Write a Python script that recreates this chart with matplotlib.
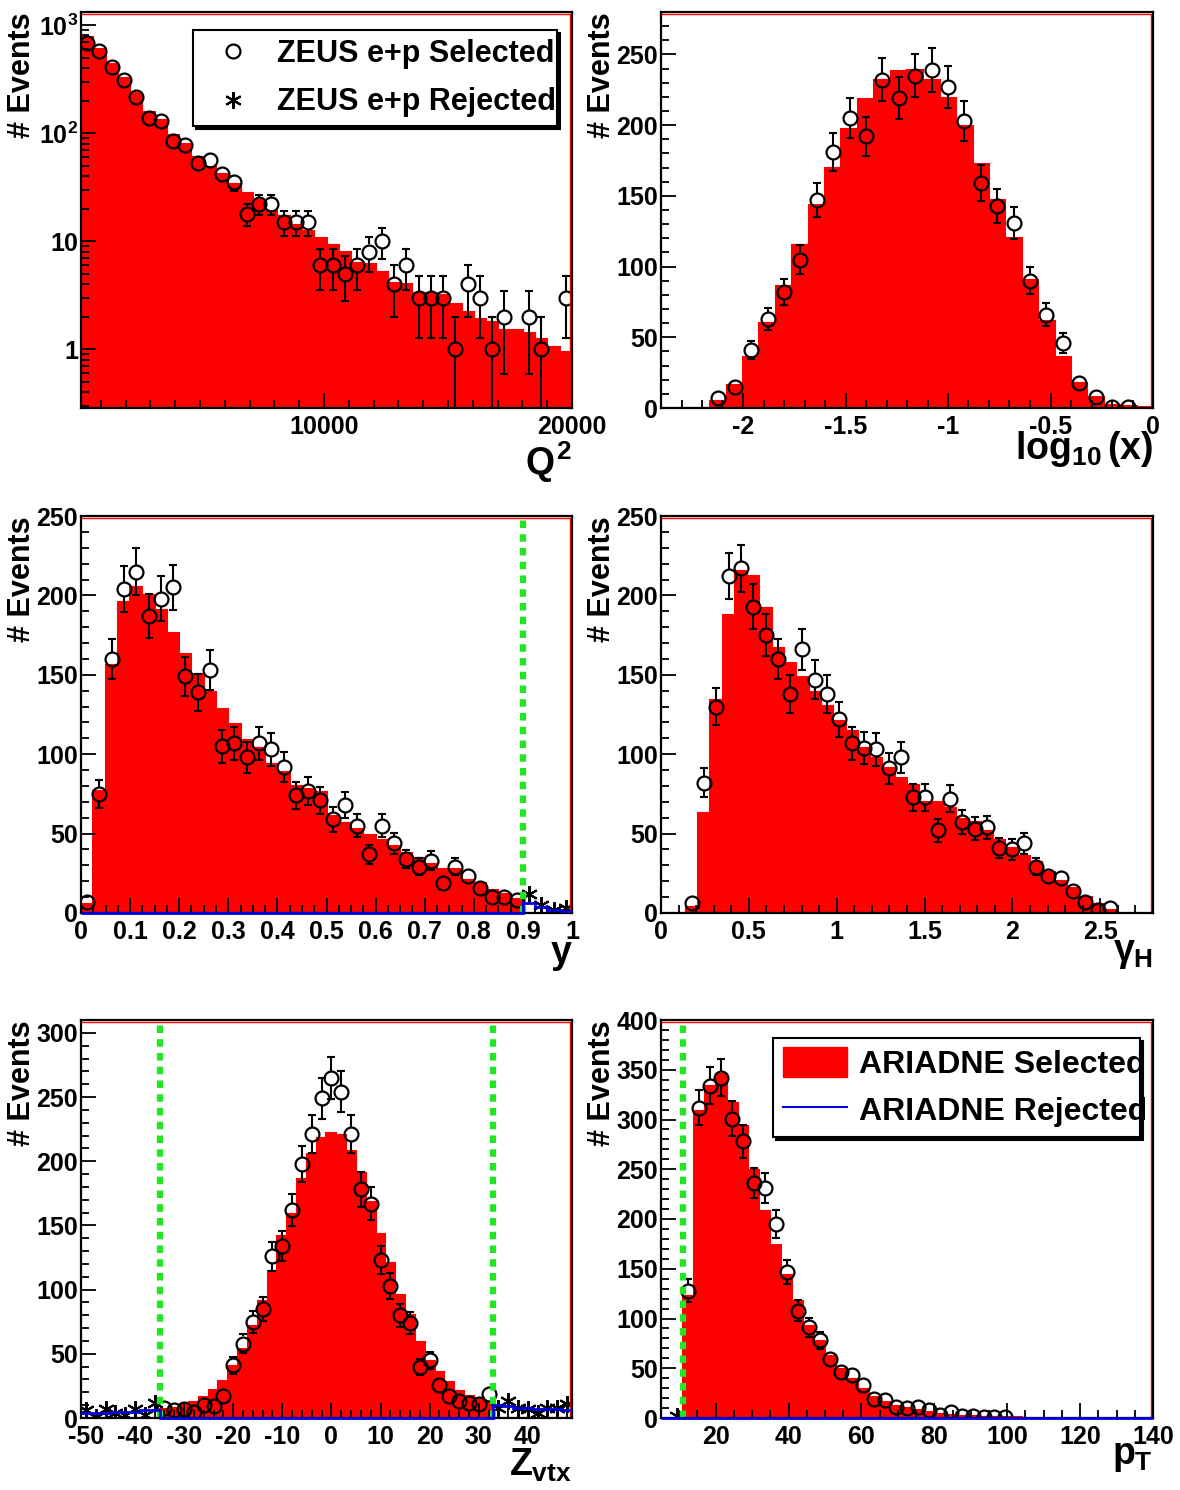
import numpy as np
import matplotlib.pyplot as plt
from matplotlib.ticker import MultipleLocator, FixedLocator, LogLocator, FuncFormatter, NullFormatter
from matplotlib.patches import Patch
from matplotlib.lines import Line2D

plt.rcParams['font.family'] = ['Liberation Sans', 'DejaVu Sans']
plt.rcParams['font.weight'] = 'bold'
plt.rcParams['mathtext.fontset'] = 'custom'
plt.rcParams['mathtext.rm'] = 'Liberation Sans:bold'
plt.rcParams['mathtext.it'] = 'Liberation Sans:bold'
plt.rcParams['mathtext.bf'] = 'Liberation Sans:bold'

RED = '#ff0000'
GREEN = '#22e622'
BLUE = '#0000dd'

# ---------------- Q^2 ----------------
q2_range = (200, 20000)
q2_nbins = 40
q2_mc = [780, 605, 440, 320, 234, 157, 132, 96, 80, 60, 49, 42, 34, 28, 24, 19, 17, 14, 12.5, 10.6,
         9.2, 7.9, 6.3, 6.2, 5.2, 4.1, 4.0, 3.3, 3.3, 3.2, 2.6, 2.2, 1.9, 1.8, 1.5, 1.5, 1.4, 1.25, 1.05, 0.95]
q2_sel = [680, 575, 408, 310, 215, 138, 129, 85, 78, 53, 56, 42, 35, 18, 22, 22, 15, 15, 15, 6,
          6, 5, 6, 8, 10, 4, 6, 3, 3, 3, 1, 4, 3, 1, 2, 0, 2, 1, 0, 3]

# ---------------- log10(x) ----------------
lx_range = (-2.4, 0)
lx_nbins = 30
lx_mc = [0, 0, 0, 4.7, 16.4, 36.4, 60.3, 86.4, 115, 143.7, 169.5, 197, 218.8, 231.7, 238.3,
         238.7, 232, 219, 199.5, 172.5, 147.4, 120.2, 90.8, 61.5, 36.4, 18, 7.5, 2.3, 1.2, 0.4]
lx_sel = [0, 0, 0, 7, 15, 41, 63, 82, 105, 147, 181, 205, 192, 232, 219,
          235, 239, 227, 203, 159, 143, 131, 90, 66, 46, 18, 8, 1, 1, 0]

# ---------------- y ----------------
y_range = (0, 1)
y_nbins = 40
y_mc = [5.7, 77, 156, 196, 205, 200, 190.5, 176.5, 163, 150.6, 139, 128.6, 119, 109, 104, 94, 88.7, 80, 78, 76,
        61, 56.5, 53, 49, 46, 42.4, 38, 34.5, 31, 28, 28, 21, 19, 14.5, 12, 9, 0, 0, 0, 0]
y_sel = [7, 75, 160, 204, 215, 187, 198, 205, 149, 139, 153, 105, 107, 98, 107, 103, 92, 74, 77, 71,
         59, 68, 55, 37, 55, 44, 34, 29, 33, 19, 29, 23, 16, 10, 10, 8, 0, 0, 0, 0]
y_rej = [0] * 36 + [12, 5, 2, 3]
y_mc_rej = [0] * 36 + [6, 4, 2, 1]
y_cuts = [0.9]

# ---------------- gamma_H ----------------
g_range = (0, 2.8)
g_nbins = 40
g_mc = [0, 0, 3.5, 62.9, 134, 187.6, 215.3, 212.2, 191.8, 167, 157.6, 148.8, 139.2, 130.4, 121, 114.3, 104.2, 97.5,
        91.6, 85.3, 80.5, 70, 70, 66, 59, 57, 51.8, 46, 41, 36, 31.9, 25.6, 20.3, 15.7, 10.3, 5.7, 1.9, 0.3, 0, 0]
g_sel = [0, 0, 6, 82, 130, 212, 217, 193, 175, 160, 138, 166, 147, 138, 122, 107, 104, 103,
         91, 98, 73, 73, 52, 72, 57, 53, 54, 41, 40, 44, 29, 23, 22, 14, 7, 2, 3, 0, 0, 0]

# ---------------- Zvtx ----------------
z_range = (-51, 49)
z_nbins = 50
z_mc = [0] * 8 + [7, 8, 10, 12.7, 16.6, 21.8, 29, 40.8, 53.8, 72, 91.4, 114.8, 142, 159, 186, 206, 218,
                  222, 220.5, 208, 191, 168, 143, 121, 96, 80, 59.5, 44.7, 35.6, 27.8, 21.3, 17.4, 15.3,
                  12.2] + [0] * 8
z_sel = [0] * 8 + [8, 6, 7, 5, 10, 9, 17, 41, 58, 75, 85, 126, 134, 162, 198, 221, 249, 265, 254, 221,
                   178, 167, 123, 103, 80, 74, 40, 45, 26, 17, 13, 12, 11, 19] + [0] * 8
z_rej = [6, 1, 7, 4, 2, 7, 2, 12] + [0] * 34 + [8, 13, 8, 7, 4, 8, 8, 11]
z_mc_rej = [4, 4, 4, 5, 5, 5, 6, 6] + [0] * 34 + [10, 9, 8, 8, 7, 7, 7, 6]
z_cuts = [-35, 33]

# ---------------- pT ----------------
pt_range = (5, 140)
pt_nbins = 45
pt_mc = [0, 0, 123, 309, 334, 346, 317, 293, 249.5, 208, 174, 143.7, 118, 92.8, 77.7, 62.6, 49.6, 39, 29,
         20.8, 15.7, 12.4, 10, 8, 5.7, 4, 3, 2.3, 1.7, 1.3, 1, 0.8,
         0.6, 0.5, 0.4, 0.4, 0.3, 0.3, 0.2, 0.2, 0.2, 0.1, 0.1, 0.1, 0.1]
pt_sel = [0, 0, 128, 312, 334, 342, 301, 278, 236, 231, 195, 147, 108, 91, 78, 59, 46, 43, 33,
          19, 18, 11, 10, 11, 8, 3, 6, 2, 2, 1, 1, 1] + [0] * 13
pt_rej = [0, 2] + [0] * 43
pt_mc_rej = [0] * 45
pt_cuts = [11]

fig = plt.figure(figsize=(11.8, 14.9), dpi=100)
W, H = 1180.0, 1490.0


def make_axes(left, top, right, bottom):
    return fig.add_axes([left / W, 1 - bottom / H, (right - left) / W, (bottom - top) / H])


MS = 10
R_PX = (MS / 2 + 0.8) * fig.dpi / 72
STAR = (6, 2, 0)


def draw_points(ax, edges, counts):
    # open circles with sqrt(N) bars that stop at the marker edge (ROOT style)
    centers = 0.5 * (edges[:-1] + edges[1:])
    counts = np.asarray(counts, float)
    keep = counts > 0
    x, n = centers[keep], counts[keep]
    ymin = ax.get_ylim()[0]
    tr = ax.transData
    inv = tr.inverted()
    for xi, ni in zip(x, n):
        ei = np.sqrt(ni)
        px, py = tr.transform((xi, ni))
        ptop = tr.transform((xi, ni + ei))[1]
        lo = ni - ei
        has_lo = lo > ymin
        pbot = tr.transform((xi, lo if has_lo else ymin))[1]
        if ptop - py > R_PX:
            y0 = inv.transform((px, py + R_PX))[1]
            ax.plot([xi, xi], [y0, ni + ei], color='k', lw=1.5, zorder=4)
            ax.plot([xi], [ni + ei], marker='_', ms=6, mew=1.5, color='k', zorder=4)
        if py - pbot > R_PX:
            y1 = inv.transform((px, py - R_PX))[1]
            ax.plot([xi, xi], [lo if has_lo else ymin, y1], color='k', lw=1.5, zorder=4)
            if has_lo:
                ax.plot([xi], [lo], marker='_', ms=6, mew=1.5, color='k', zorder=4)
    ax.plot(x, n, ls='none', marker='o', ms=MS, mfc='none', mec='k', mew=1.6, zorder=5)


def draw_panel(ax, rng, nbins, mc, sel, rej=None, mc_rej=None, cuts=()):
    edges = np.linspace(rng[0], rng[1], nbins + 1)
    ax.stairs(mc, edges, fill=True, color=RED, lw=0, zorder=1)
    ax.stairs(mc, edges, color=RED, lw=1.5, zorder=1.2)
    if mc_rej is not None:
        ax.stairs(mc_rej, edges, color=BLUE, lw=2, zorder=11, clip_on=False, baseline=None)
    for c in cuts:
        ax.axvline(c, color=GREEN, lw=4.5, ls=(0, (1.2, 1.0)), zorder=6)
    draw_points(ax, edges, sel)
    if rej is not None:
        centers = 0.5 * (edges[:-1] + edges[1:])
        rej = np.asarray(rej, float)
        m = rej > 0
        ax.plot(centers[m], rej[m], ls='none', marker=STAR, ms=12, mew=1.5, color='k', zorder=5)


def style(ax, xlabel, xlab_y):
    ax.tick_params(which='both', direction='in', top=False, right=False, width=1.3,
                   labelsize=18, colors='k')
    ax.tick_params(which='major', length=11)
    ax.tick_params(which='minor', length=6)
    ax.tick_params(axis='x', pad=5)
    ax.tick_params(axis='y', pad=2)
    for sp in ax.spines.values():
        sp.set_linewidth(1.6)
        sp.set_zorder(10)
    ax.plot([0, 0.995, 0.995], [0.994, 0.994, 0], transform=ax.transAxes, color=RED, lw=1.0,
            zorder=9, clip_on=False)
    ax.text(-0.12, 1.0, '# Events', rotation=90, ha='center', va='top', fontsize=22,
            transform=ax.transAxes)
    ax.text(1.0, xlab_y, xlabel, ha='right', va='baseline', fontsize=27, transform=ax.transAxes)


fmt_g = FuncFormatter(lambda v, p: '%g' % round(v, 6) if abs(v) > 1e-9 else '0')

# --- Q^2 panel ---
ax1 = make_axes(81, 12, 572, 408)
ax1.set_yscale('log')
ax1.set_xlim(*q2_range)
ax1.set_ylim(0.285, 1320)
draw_panel(ax1, q2_range, q2_nbins, q2_mc, q2_sel)
ax1.xaxis.set_major_locator(FixedLocator([10000, 20000]))
ax1.xaxis.set_minor_locator(MultipleLocator(1000))
ax1.xaxis.set_major_formatter(FuncFormatter(lambda v, p: '%d' % v))
ax1.yaxis.set_major_locator(FixedLocator([1, 10, 100, 1000]))
ax1.yaxis.set_minor_locator(LogLocator(subs=np.arange(2, 10)))
ax1.yaxis.set_minor_formatter(NullFormatter())
ylog_labels = {1: '1', 10: '10', 100: r'$10^{2}$', 1000: r'$10^{3}$'}
ax1.yaxis.set_major_formatter(FuncFormatter(lambda v, p: ylog_labels.get(int(round(v)), '')))
style(ax1, r'$Q^{2}$', -0.17)
h_sel = Line2D([], [], ls='none', marker='o', ms=MS, mfc='none', mec='k', mew=1.6)
h_rej = Line2D([], [], ls='none', marker=STAR, ms=12, mew=1.5, color='k')
leg1 = ax1.legend([h_sel, h_rej], ['ZEUS e+p Selected', 'ZEUS e+p Rejected'],
                  loc='upper left', bbox_to_anchor=(0.228, 0.715, 0.741, 0.24), mode='expand',
                  fontsize=22, fancybox=False, framealpha=1, edgecolor='k', borderaxespad=0,
                  borderpad=0.3, labelspacing=0.6, handlelength=2.0, handletextpad=0.45,
                  shadow={'color': 'k', 'alpha': 1})
leg1.get_frame().set_linewidth(1.5)
leg1.set_zorder(12)

# --- log10(x) panel ---
ax2 = make_axes(661, 12, 1153, 408)
ax2.set_xlim(*lx_range)
ax2.set_ylim(0, 280)
draw_panel(ax2, lx_range, lx_nbins, lx_mc, lx_sel)
ax2.xaxis.set_major_locator(MultipleLocator(0.5))
ax2.xaxis.set_minor_locator(MultipleLocator(0.1))
ax2.xaxis.set_major_formatter(fmt_g)
ax2.yaxis.set_major_locator(MultipleLocator(50))
ax2.yaxis.set_minor_locator(MultipleLocator(10))
style(ax2, r'$\log_{10}(x)$', -0.13)

# --- y panel ---
ax3 = make_axes(81, 516, 572, 913)
ax3.set_xlim(*y_range)
ax3.set_ylim(0, 250)
draw_panel(ax3, y_range, y_nbins, y_mc, y_sel, y_rej, y_mc_rej, y_cuts)
ax3.xaxis.set_major_locator(MultipleLocator(0.1))
ax3.xaxis.set_minor_locator(MultipleLocator(0.025))
ax3.xaxis.set_major_formatter(fmt_g)
ax3.yaxis.set_major_locator(MultipleLocator(50))
ax3.yaxis.set_minor_locator(MultipleLocator(10))
style(ax3, 'y', -0.125)

# --- gamma_H panel ---
ax4 = make_axes(661, 516, 1153, 913)
ax4.set_xlim(*g_range)
ax4.set_ylim(0, 250)
draw_panel(ax4, g_range, g_nbins, g_mc, g_sel)
ax4.xaxis.set_major_locator(MultipleLocator(0.5))
ax4.xaxis.set_minor_locator(MultipleLocator(0.1))
ax4.xaxis.set_major_formatter(fmt_g)
ax4.yaxis.set_major_locator(MultipleLocator(50))
ax4.yaxis.set_minor_locator(MultipleLocator(10))
style(ax4, r'$\gamma_{H}$', -0.12)

# --- Zvtx panel ---
ax5 = make_axes(81, 1020, 572, 1418)
ax5.set_xlim(*z_range)
ax5.set_ylim(0, 310)
draw_panel(ax5, z_range, z_nbins, z_mc, z_sel, z_rej, z_mc_rej, z_cuts)
ax5.xaxis.set_major_locator(MultipleLocator(10))
ax5.xaxis.set_minor_locator(MultipleLocator(2))
ax5.xaxis.set_major_formatter(fmt_g)
ax5.yaxis.set_major_locator(MultipleLocator(50))
ax5.yaxis.set_minor_locator(MultipleLocator(10))
style(ax5, r'$Z_{vtx}$', -0.145)

# --- pT panel ---
ax6 = make_axes(661, 1020, 1153, 1418)
ax6.set_xlim(*pt_range)
ax6.set_ylim(0, 400)
draw_panel(ax6, pt_range, pt_nbins, pt_mc, pt_sel, pt_rej, pt_mc_rej, pt_cuts)
ax6.xaxis.set_major_locator(MultipleLocator(20))
ax6.xaxis.set_minor_locator(MultipleLocator(5))
ax6.xaxis.set_major_formatter(fmt_g)
ax6.yaxis.set_major_locator(MultipleLocator(50))
ax6.yaxis.set_minor_locator(MultipleLocator(10))
style(ax6, r'$p_{T}$', -0.115)
h_red = Patch(facecolor=RED, edgecolor=RED)
h_blue = Line2D([], [], color=BLUE, lw=1.5)
leg6 = ax6.legend([h_red, h_blue], ['ARIADNE Selected', 'ARIADNE Rejected'],
                  loc='upper left', bbox_to_anchor=(0.228, 0.711, 0.746, 0.244), mode='expand',
                  fontsize=23, fancybox=False, framealpha=1, edgecolor='k', borderaxespad=0,
                  borderpad=0.3, labelspacing=0.45, handlelength=2.0, handleheight=1.05,
                  handletextpad=0.4, shadow={'color': 'k', 'alpha': 1})
leg6.get_frame().set_linewidth(1.5)
leg6.set_zorder(12)

fig.savefig('out.png', dpi=100)
